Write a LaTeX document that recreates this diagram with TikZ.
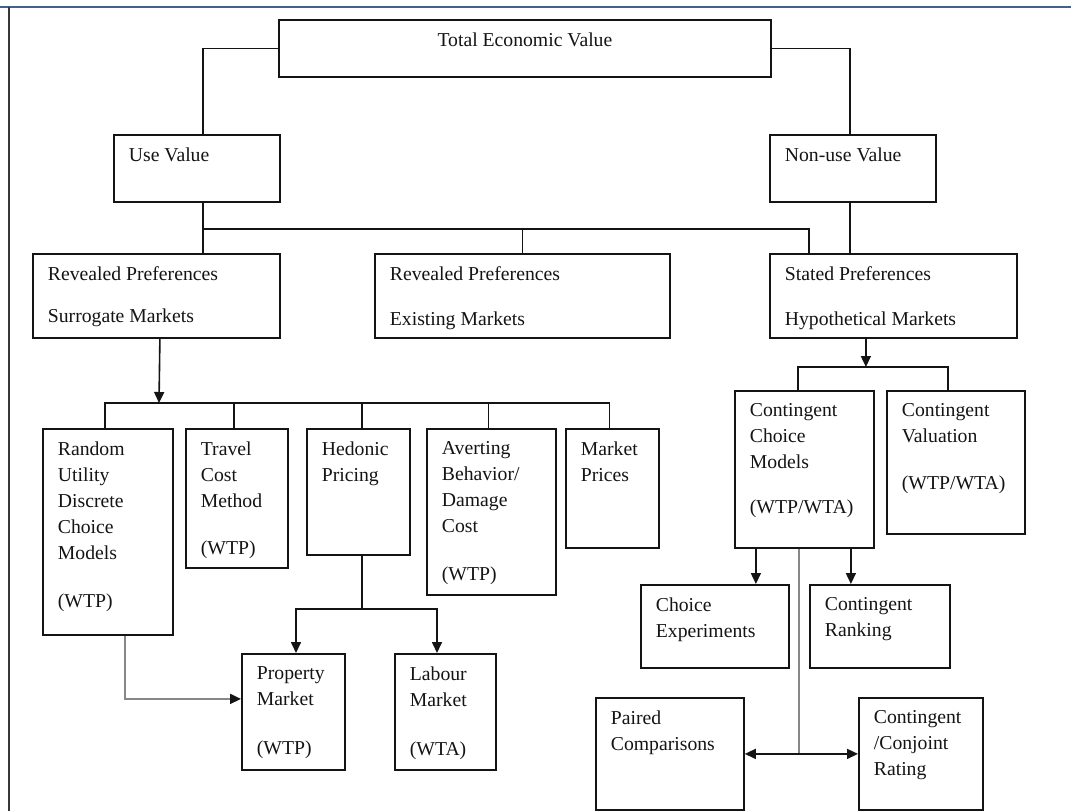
\documentclass[tikz,border=0pt]{standalone}
\usepackage{fontspec}
\setmainfont{Liberation Serif}
\usetikzlibrary{arrows.meta}

\definecolor{framecol}{RGB}{70,96,140}
\definecolor{inkcol}{RGB}{20,20,20}
\definecolor{greyline}{RGB}{135,135,135}

% box text: width, height, lines (set at the top left of the box)
\newcommand{\boxtxt}[3]{\parbox[c][\dimexpr#2pt-26pt\relax][t]{\dimexpr#1pt-30pt\relax}{\raggedright#3}}

\begin{document}
\begin{tikzpicture}[x=1pt,y=-1pt,
    tbox/.style={draw=inkcol,line width=1.8pt,anchor=north west,inner xsep=15pt,inner ysep=13pt,
                 text=inkcol,font=\fontsize{19.7}{26}\selectfont},
    link/.style={draw=inkcol,line width=1.6pt},
    tip/.style={-{Triangle[length=11pt,width=10pt]}},
    arr/.style={link,tip},
    greylink/.style={draw=greyline,line width=1.8pt}]
    \useasboundingbox (0,0) rectangle (1071,811);
    \fill[white] (0,0) rectangle (1071,811);
    \draw[framecol,line width=2.5pt] (0,7) -- (1071,7);
    \draw[inkcol!85,line width=1.6pt] (9,7) -- (9,811);

    \node[tbox] (tev) at (278,19) {\parbox[c][31pt][t]{462pt}{\centering Total Economic Value}};
    \node[tbox] (use) at (113,134) {\boxtxt{166}{67}{Use Value}};
    \node[tbox] (nonuse) at (769,134) {\boxtxt{166}{67}{Non-use Value}};

    \node[tbox] (rps) at (32,253) {\boxtxt{247}{84}{Revealed Preferences\\[16pt]Surrogate Markets}};
    \node[tbox] (rpe) at (374,253) {\boxtxt{295}{84}{Revealed Preferences\\[19pt]Existing Markets}};
    \node[tbox] (sp) at (769,253) {\boxtxt{247}{84}{Stated Preferences\\[19pt]Hypothetical Markets}};

    \node[tbox] (rum) at (42,428) {\boxtxt{130}{206}{Random\\Utility\\Discrete\\Choice\\Models\\[22pt](WTP)}};
    \node[tbox] (tcm) at (185,428) {\boxtxt{102}{139}{Travel\\Cost\\Method\\[21pt](WTP)}};
    \node[tbox] (hp) at (306,428) {\boxtxt{103}{126}{Hedonic\\Pricing}};
    \node[tbox] (ab) at (426,428) {\boxtxt{129}{166}{Averting\\Behavior/\\Damage\\Cost\\[22pt](WTP)}};
    \node[tbox] (mp) at (565,428) {\boxtxt{93}{119}{Market\\Prices}};

    \node[tbox] (pm) at (241,653) {\boxtxt{103}{116}{Property\\Market\\[23pt](WTP)}};
    \node[tbox] (lm) at (394,653) {\boxtxt{101}{116}{Labour\\Market\\[23pt](WTA)}};

    \node[tbox] (ccm) at (734,390) {\boxtxt{139}{157}{Contingent\\Choice\\Models\\[19pt](WTP/WTA)}};
    \node[tbox] (cv) at (886,390) {\boxtxt{138}{143}{Contingent\\Valuation\\[21pt](WTP/WTA)}};
    \node[tbox] (ce) at (640,584) {\boxtxt{148}{83}{Choice\\Experiments}};
    \node[tbox] (cr) at (809,584) {\boxtxt{140}{83}{Contingent\\Ranking}};
    \node[tbox] (pc) at (595,697) {\boxtxt{148}{112}{Paired\\Comparisons}};
    \node[tbox] (ccr) at (858,697) {\boxtxt{124}{112}{Contingent\\/Conjoint\\Rating}};

    % values
    \draw[link] (tev.west) -| ([xshift=6pt]use.north);
    \draw[link] (tev.east) -| ([xshift=-3pt]nonuse.north);
    \coordinate (ua) at (202,229);
    \coordinate (ub) at (809,229);
    \draw[link] ([xshift=6pt]use.south) -- ([xshift=6pt]use.south |- rps.north);
    \draw[link] (ua) -- (ub) -- (ub |- sp.north);
    \draw[link] (rpe.north) -- (rpe.north |- ua);
    \draw[link] ([xshift=-3pt]nonuse.south) -- ([xshift=-3pt]nonuse.south |- sp.north);

    % surrogate markets
    \coordinate (ra) at (159,403);
    \draw[arr] ([xshift=3.5pt]rps.south) -- (ra);
    \draw[link] ([xshift=-3pt]rum.north) |- ([xshift=-3pt]mp.north |- ra) -- ([xshift=-3pt]mp.north);
    \foreach \n/\s in {tcm/-3,hp/3.5,ab/-3}
        \draw[link] ([xshift=\s pt]\n.north) -- ([xshift=\s pt]\n.north |- ra);

    \coordinate (ha) at (296,609);
    \coordinate (hb) at (437,609);
    \draw[link] ([xshift=3.5pt]hp.south) -- ([xshift=3.5pt]hp.south |- ha);
    \draw[arr] (hb) -| (pm.north -| ha);
    \draw[arr] (ha) -| (lm.north -| hb);
    \draw[greylink,-{Triangle[length=11pt,width=10pt,color=inkcol]}] ([xshift=17pt]rum.south) |- ([yshift=13pt]pm.west);

    % hypothetical markets
    \coordinate (sa) at (798,367);
    \coordinate (sb) at (948,367);
    \draw[arr] ([xshift=-27.5pt]sp.south) -- ([xshift=-27.5pt]sp.south |- sa);
    \draw[link] (ccm.north -| sa) |- (sb) -- (cv.north -| sb);

    \coordinate (ca) at ([xshift=-48.5pt]ccm.south);
    \coordinate (cb) at ([xshift=46.5pt]ccm.south);
    \coordinate (cc) at ([xshift=-5.5pt]ccm.south);
    \draw[arr] (ca) -- (ca |- ce.north);
    \draw[arr] (cb) -- (cb |- cr.north);
    \draw[greylink] (cc) -- (cc |- pc.east);
    \draw[link,{Triangle[length=11pt,width=10pt]}-{Triangle[length=11pt,width=10pt]}] (pc.east) -- (ccr.west);
\end{tikzpicture}
\end{document}
